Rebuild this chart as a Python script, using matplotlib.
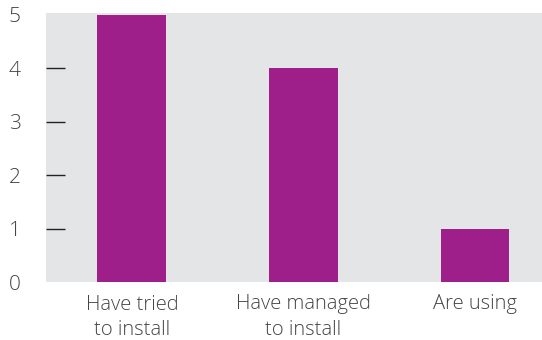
import matplotlib.pyplot as plt

categories = ['Have tried\nto install', 'Have managed\nto install', 'Are using']
counts = [5, 4, 1]
yticks = [0, 1, 2, 3, 4, 5]

plt.rcParams['font.family'] = ['Open Sans', 'DejaVu Sans']

fig = plt.figure(figsize=(5.42, 3.4), dpi=100)
ax = fig.add_axes([46 / 542, 1 - 282 / 340, 1 - 46 / 542, (282 - 13) / 340])
ax.set_facecolor('#e4e5e7')

ax.bar(range(len(counts)), counts, width=0.4, color='#9e1f8a')

ax.set_xlim(-0.5, 2.39)
ax.set_ylim(0, 5.03)
ax.set_yticks(yticks)
ax.set_xticks(range(len(categories)))
ax.set_xticklabels(categories, linespacing=1.35)

for s in ax.spines.values():
    s.set_visible(False)

ax.tick_params(axis='y', direction='in', length=14, width=1, color='#222222',
               pad=18, labelsize=15, labelcolor='#444444')
ax.tick_params(axis='x', length=0, pad=9, labelsize=14.5, labelcolor='#444444')
for lbl in ax.get_xticklabels() + ax.get_yticklabels():
    lbl.set_fontweight('light')

# the end ticks (0 and 5) have no marks in the original
ticks = ax.yaxis.get_major_ticks()
for t in (ticks[0], ticks[-1]):
    t.tick1line.set_visible(False)

fig.savefig('out.png', dpi=100)
